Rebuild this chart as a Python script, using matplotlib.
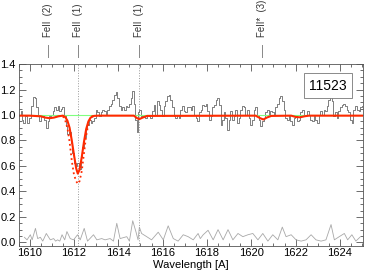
import matplotlib
matplotlib.use("Agg")
import matplotlib.pyplot as plt
from matplotlib.ticker import MultipleLocator

plt.rcParams['font.family'] = ['Liberation Sans', 'DejaVu Sans']

# normalised flux (grey histogram)
wave = [1609.49, 1609.57, 1609.61, 1609.67, 1609.76, 1609.82, 1609.91, 1610.02, 1610.12, 1610.18,
        1610.27, 1610.33, 1610.39, 1610.45, 1610.54, 1610.62, 1610.69, 1610.77, 1610.84, 1610.92,
        1610.99, 1611.07, 1611.14, 1611.22, 1611.29, 1611.37, 1611.44, 1611.52, 1611.59, 1611.67,
        1611.74, 1611.82, 1611.89, 1611.97, 1612.04, 1612.12, 1612.19, 1612.27, 1612.34, 1612.41,
        1612.49, 1612.56, 1612.64, 1612.71, 1612.79, 1612.86, 1612.94, 1613.01, 1613.09, 1613.16,
        1613.24, 1613.31, 1613.39, 1613.46, 1613.54, 1613.61, 1613.69, 1613.76, 1613.84, 1613.91,
        1613.99, 1614.06, 1614.14, 1614.21, 1614.29, 1614.36, 1614.44, 1614.51, 1614.59, 1614.66,
        1614.74, 1614.81, 1614.86, 1614.92, 1614.99, 1615.07, 1615.16, 1615.26, 1615.34, 1615.41,
        1615.49, 1615.56, 1615.64, 1615.71, 1615.79, 1615.86, 1615.94, 1616.01, 1616.09, 1616.16,
        1616.24, 1616.31, 1616.39, 1616.46, 1616.54, 1616.61, 1616.69, 1616.76, 1616.84, 1616.91,
        1616.99, 1617.06, 1617.14, 1617.23, 1617.30, 1617.38, 1617.45, 1617.53, 1617.60, 1617.68,
        1617.75, 1617.83, 1617.90, 1617.98, 1618.05, 1618.13, 1618.20, 1618.28, 1618.35, 1618.43,
        1618.50, 1618.58, 1618.65, 1618.72, 1618.80, 1618.87, 1618.95, 1619.02, 1619.10, 1619.17,
        1619.25, 1619.32, 1619.40, 1619.47, 1619.55, 1619.62, 1619.70, 1619.77, 1619.85, 1619.92,
        1620.00, 1620.07, 1620.15, 1620.22, 1620.30, 1620.37, 1620.45, 1620.52, 1620.60, 1620.67,
        1620.75, 1620.82, 1620.90, 1620.97, 1621.05, 1621.12, 1621.20, 1621.27, 1621.35, 1621.42,
        1621.50, 1621.57, 1621.65, 1621.72, 1621.80, 1621.87, 1621.95, 1622.02, 1622.10, 1622.17,
        1622.25, 1622.32, 1622.40, 1622.47, 1622.55, 1622.62, 1622.70, 1622.77, 1622.85, 1622.92,
        1623.00, 1623.07, 1623.15, 1623.22, 1623.30, 1623.37, 1623.45, 1623.52, 1623.60, 1623.67,
        1623.75, 1623.82, 1623.90, 1623.97, 1624.05, 1624.12, 1624.20, 1624.27, 1624.35, 1624.42,
        1624.50, 1624.57, 1624.65, 1624.72, 1624.80, 1624.88, 1624.95, 1625.02, 1625.10]
flux = [1.00, 1.00, 1.03, 0.96, 0.94, 0.99, 0.94, 0.98, 1.07, 1.14,
        1.13, 1.06, 0.99, 0.95, 0.99, 1.00, 0.96, 0.90, 0.95, 0.99,
        1.00, 1.03, 1.06, 1.04, 1.07, 1.03, 1.05, 1.06, 1.00, 0.91,
        0.85, 0.87, 0.78, 0.70, 0.62, 0.60, 0.62, 0.58, 0.67, 0.75,
        0.83, 0.90, 0.92, 0.96, 0.94, 0.95, 0.98, 1.04, 1.02, 0.99,
        1.02, 1.04, 1.03, 1.00, 1.04, 1.07, 1.09, 1.12, 1.16, 1.18,
        1.13, 1.07, 1.04, 1.06, 1.04, 1.07, 1.06, 1.09, 1.13, 1.19,
        1.09, 0.96, 0.87, 1.02, 1.04, 0.99, 1.00, 0.98, 1.00, 0.99,
        0.98, 1.03, 1.08, 1.00, 1.11, 1.08, 1.04, 0.99, 1.07, 1.11,
        1.15, 1.16, 1.12, 1.06, 0.99, 0.98, 1.00, 0.98, 1.04, 1.07,
        1.03, 1.02, 1.06, 1.06, 1.04, 1.07, 1.00, 0.98, 0.95, 1.02,
        1.04, 1.08, 1.07, 1.09, 1.03, 0.96, 0.99, 1.06, 1.08, 1.12,
        1.13, 1.08, 0.92, 0.96, 1.02, 0.98, 0.88, 0.96, 1.03, 0.96,
        0.99, 1.04, 0.94, 0.98, 1.04, 1.07, 1.06, 1.00, 1.04, 0.98,
        0.92, 0.96, 1.04, 1.06, 1.00, 0.96, 0.91, 0.95, 0.98, 1.02,
        1.04, 1.00, 1.03, 1.02, 1.00, 1.06, 1.09, 1.13, 1.15, 1.11,
        1.04, 0.98, 0.96, 1.00, 0.95, 0.92, 0.98, 0.99, 0.95, 0.96,
        1.02, 1.04, 0.99, 1.00, 1.03, 1.00, 0.96, 0.95, 0.99, 0.96,
        0.94, 1.00, 1.03, 1.00, 1.04, 1.03, 1.07, 1.12, 1.17, 1.11,
        0.99, 1.02, 0.98, 1.03, 1.06, 1.08, 1.09, 1.07, 1.04, 1.02,
        0.96, 0.94, 1.04, 1.07, 1.04, 1.03, 1.06, 1.07, 1.06]

# error spectrum
err_wave = [1609.76, 1609.88, 1610.03, 1610.11, 1610.26, 1610.36, 1610.48, 1610.59, 1610.75, 1610.93,
            1611.08, 1611.17, 1611.26, 1611.36, 1611.46, 1611.58, 1611.68, 1611.83, 1611.98, 1612.16,
            1612.28, 1612.46, 1612.61, 1612.88, 1613.03, 1613.25, 1613.40, 1613.63, 1613.78, 1613.93,
            1614.08, 1614.38, 1614.50, 1614.65, 1614.80, 1614.89, 1614.95, 1615.05, 1615.28, 1615.50,
            1615.80, 1616.03, 1616.25, 1616.48, 1616.70, 1616.93, 1617.15, 1617.38, 1617.60, 1617.70,
            1617.83, 1618.05, 1618.28, 1618.50, 1618.73, 1618.95, 1619.17, 1619.40, 1619.62, 1619.85,
            1620.07, 1620.30, 1620.52, 1620.75, 1620.97, 1621.20, 1621.40, 1621.57, 1621.80, 1622.02,
            1622.25, 1622.47, 1622.70, 1622.92, 1623.15, 1623.37, 1623.60, 1623.75, 1623.97, 1624.20,
            1624.35, 1624.54, 1624.72, 1624.90]
err = [0.04, 0.02, 0.06, 0.02, 0.11, 0.03, 0.04, 0.01, 0.07, 0.02,
       0.03, 0.01, 0.02, 0.01, 0.06, 0.02, 0.085, 0.03, 0.02, 0.06,
       0.02, 0.11, 0.01, 0.06, 0.02, 0.03, 0.02, 0.03, 0.01, 0.15,
       0.03, 0.045, 0.01, 0.17, 0.08, 0.02, 0.12, 0.07, 0.045, 0.02,
       0.08, 0.02, 0.13, 0.03, 0.01, 0.06, 0.045, 0.02, 0.07, 0.03,
       0.06, 0.095, 0.02, 0.10, 0.02, 0.10, 0.02, 0.07, 0.045, 0.06,
       0.07, 0.02, 0.07, 0.01, 0.06, 0.02, 0.12, 0.045, 0.06, 0.02,
       0.01, 0.02, 0.06, 0.02, 0.01, 0.02, 0.14, 0.02, 0.045, 0.07,
       0.02, 0.06, 0.01, 0.04]

# fitted model (red)
model_wave = [1609.5, 1610.0, 1610.5, 1610.7, 1610.9, 1611.1, 1611.3, 1611.5, 1611.6, 1611.7,
              1611.8, 1611.9, 1612.0, 1612.1, 1612.17, 1612.25, 1612.35, 1612.45, 1612.55, 1612.65,
              1612.75, 1612.9, 1613.1, 1614.7, 1614.85, 1614.95, 1615.1, 1615.3, 1620.2, 1620.4,
              1620.55, 1620.7, 1620.9, 1621.8, 1622.0, 1622.2, 1622.4, 1622.6, 1625.2]
model = [0.995, 0.995, 0.99, 0.98, 0.975, 0.98, 0.99, 0.995, 0.985, 0.957,
         0.90, 0.80, 0.685, 0.58, 0.54, 0.57, 0.67, 0.79, 0.89, 0.95,
         0.98, 0.993, 0.995, 0.995, 0.975, 0.968, 0.98, 0.993, 0.995, 0.975,
         0.965, 0.98, 0.993, 0.995, 0.985, 0.982, 0.99, 0.995, 0.995]

# second model component (red dotted)
model2_wave = [1611.5, 1611.6, 1611.7, 1611.8, 1611.9, 1612.0, 1612.1, 1612.17, 1612.25, 1612.35,
               1612.45, 1612.55, 1612.65, 1612.75, 1612.85]
model2 = [0.99, 0.96, 0.90, 0.79, 0.64, 0.53, 0.48, 0.46, 0.48, 0.56,
          0.70, 0.84, 0.93, 0.98, 0.995]

cont_wave = [1609.5, 1625.2]
cont = [1.0, 1.0]

# line identifications
line_wave = [1610.83, 1612.16, 1614.92, 1620.48]
line_lab = ['FeII  (2)', 'FeII  (1)', 'FeII  (1)', 'FeII*  (3)']
marked = [1612.16, 1614.92]

fig = plt.figure(figsize=(3.65, 2.75), dpi=100)
ax = fig.add_axes([0.051, 0.107, 0.944, 0.660])

for w in marked:
    ax.axvline(w, color='#999999', lw=0.7, ls=':')

ax.plot(err_wave, err, color='#a8a8a8', lw=0.6)
ax.plot(wave, flux, color='#6a6a6a', lw=0.6, drawstyle='steps-mid')
ax.plot(cont_wave, cont, color='#80ff80', lw=0.8)
ax.plot(model2_wave, model2, color='#ff2a00', lw=1.3, ls=':')
ax.plot(model_wave, model, color='#ff2a00', lw=1.5)

ax.set_xlim(1609.5, 1625.05)
ax.set_ylim(-0.025, 1.4)
ax.xaxis.set_major_locator(MultipleLocator(2))
ax.xaxis.set_minor_locator(MultipleLocator(0.5))
ax.yaxis.set_major_locator(MultipleLocator(0.2))
ax.yaxis.set_minor_locator(MultipleLocator(0.05))
ax.tick_params(which='both', direction='in', top=True, right=True, labelsize=8,
               color='#555555', width=0.6, pad=2)
ax.tick_params(which='major', length=5)
ax.tick_params(which='minor', length=2.5)
ax.yaxis.set_major_formatter(matplotlib.ticker.FormatStrFormatter('%.1f'))
for s in ax.spines.values():
    s.set_color('#555555')
    s.set_linewidth(0.6)
ax.set_xlabel('Wavelength [A]', fontsize=8, labelpad=1)

for w, lab in zip(line_wave, line_lab):
    ax.plot([w, w], [1.455, 1.55], color='#888888', lw=0.7, clip_on=False)
    ax.text(w, 1.61, lab, rotation=90, ha='center', va='bottom', fontsize=6.9,
            color='#333333', clip_on=False)

ax.text(0.898, 0.88, '11523', transform=ax.transAxes, ha='center', va='center',
        fontsize=10, bbox=dict(boxstyle='square,pad=0.4', fc='white', ec='#777777', lw=0.6))

fig.savefig('out.png', dpi=100)
